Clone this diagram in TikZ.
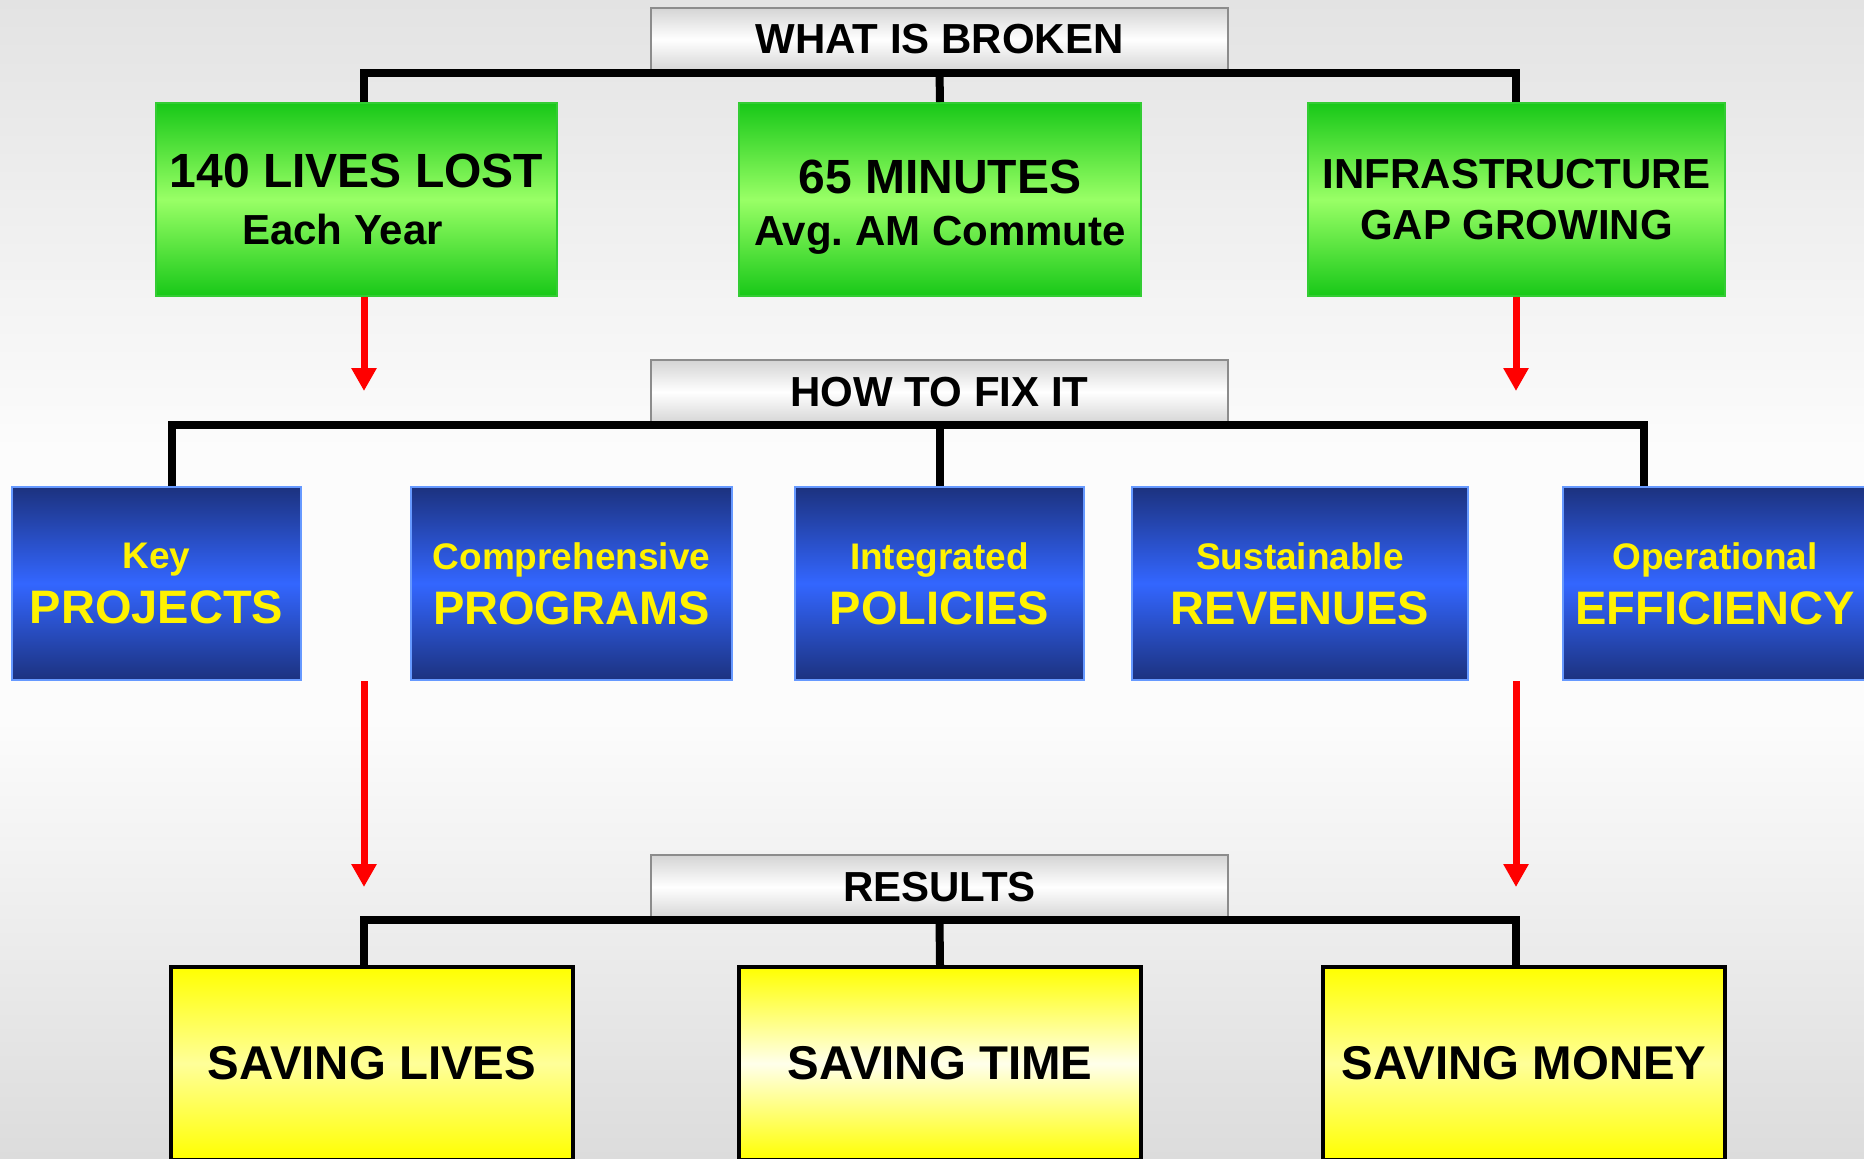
\documentclass[tikz,border=0pt]{standalone}
\usepackage{fontspec}
\setmainfont{Liberation Sans}
\usetikzlibrary{arrows.meta}
\definecolor{bgtop}{HTML}{E3E3E3}
\definecolor{bgmid}{HTML}{FCFCFC}
\definecolor{bgbottom}{HTML}{DCDCDC}
\definecolor{headgray}{HTML}{D4D4D4}
\definecolor{headedge}{HTML}{8C8C8C}
\definecolor{greendark}{HTML}{18C818}
\definecolor{greenlight}{HTML}{99FF66}
\definecolor{greenedge}{HTML}{33CC33}
\definecolor{bluedark}{HTML}{1C327F}
\definecolor{bluelight}{HTML}{3366FF}
\definecolor{blueedge}{HTML}{6699FF}
\definecolor{resultlight}{HTML}{FFFF99}
\begin{document}
\begin{tikzpicture}[x=0.5pt,y=-0.5pt,
    head node/.style={draw=headedge,line width=1pt,top color=headgray,bottom color=headgray,middle color=white,minimum width=288.5pt,minimum height=32pt,inner sep=0pt,font=\bfseries\fontsize{21}{25}\selectfont},
    problem node/.style={draw=greenedge,line width=1pt,top color=greendark,bottom color=greendark,middle color=greenlight,minimum height=96.5pt,inner sep=0pt,align=center,font=\bfseries\fontsize{21}{28.5}\selectfont},
    fix node/.style={draw=blueedge,line width=1pt,top color=bluedark,bottom color=bluedark,middle color=bluelight,minimum height=96.5pt,inner sep=0pt,align=center,text=yellow,font=\bfseries\fontsize{23.5}{27.5}\selectfont},
    result node/.style={draw=black,line width=2pt,top color=yellow,bottom color=yellow,middle color=resultlight,minimum width=201pt,minimum height=96.5pt,inner sep=0pt,font=\bfseries\fontsize{23.7}{28}\selectfont},
    tree line/.style={line width=4pt},
    down arrow/.style={red,line width=3.5pt,-{Triangle[width=12pt,length=11.5pt]}}]
    \useasboundingbox (0,0) rectangle (1864,1158);
    \clip (0,0) rectangle (1864,1158);
    \shade[top color=bgtop,bottom color=bgmid] (0,0) rectangle (1864,450);
    \fill[bgmid] (0,449) rectangle (1864,721);
    \shade[top color=bgmid,bottom color=bgbottom] (0,720) rectangle (1864,1158);

    \coordinate (c1) at (364,0);
    \coordinate (c3) at (1516,0);
    \coordinate (c4) at (172,0);
    \coordinate (c6) at (1644,0);
    \coordinate (a1) at (364,391);
    \coordinate (a2) at (1516,391);
    \coordinate (a3) at (364,887);
    \coordinate (a4) at (1516,887);

    \node[head node] at (939.5,39.5) (broken) {WHAT IS BROKEN};
    \node[head node] at (939.5,392) (fix) {HOW TO FIX IT};
    \node[head node] at (939.5,887) (results) {RESULTS};

    \node[problem node,minimum width=200.5pt] at (356.5,199.5) (g1) {\fontsize{24}{28.5}\selectfont 140 LIVES LOST\\Each Year\hspace*{14pt}};
    \node[problem node,minimum width=201pt,font=\bfseries\fontsize{21}{26}\selectfont] at (940,199.5) (g2) {\fontsize{24}{26}\selectfont\rule{0pt}{24pt}65 MINUTES\\Avg.\ AM Commute};
    \node[problem node,minimum width=208.5pt,font=\bfseries\fontsize{21}{25.5}\selectfont] at (1516.5,199.5) (g3) {INFRASTRUCTURE\\GAP GROWING};

    \node[fix node,minimum width=144.5pt] at (156.5,583.5) (p1) {\fontsize{18.5}{27.5}\selectfont Key\\PROJECTS};
    \node[fix node,minimum width=160.5pt] at (571.5,583.5) (p2) {\fontsize{18.5}{27.5}\selectfont Comprehensive\\PROGRAMS};
    \node[fix node,minimum width=144.5pt] at (939.5,583.5) (p3) {\fontsize{18.5}{27.5}\selectfont Integrated\\POLICIES};
    \node[fix node,minimum width=168pt] at (1300,583.5) (p4) {\fontsize{18.5}{27.5}\selectfont Sustainable\\REVENUES};
    \node[fix node,minimum width=152pt] at (1715,583.5) (p5) {\fontsize{18.5}{27.5}\selectfont Operational\\EFFICIENCY};

    \node[result node] at (372,1063.5) (r1) {SAVING LIVES};
    \node[result node,middle color=yellow!8] at (940,1063.5) (r2) {SAVING TIME};
    \node[result node] at (1524,1063.5) (r3) {SAVING MONEY};

    \draw[tree line] (g1.north -| c1) |- (broken.south) -| (g3.north -| c3);
    \draw[tree line] (broken.south) -- (g2.north);
    \draw[tree line] (p1.north -| c4) |- (fix.south) -| (p5.north -| c6);
    \draw[tree line] (fix.south) -- (p3.north);
    \draw[tree line] (r1.north -| c1) |- (results.south) -| (r3.north -| c3);
    \draw[tree line] (results.south) -- (r2.north);

    \draw[down arrow] (g1.south -| c1) -- (a1);
    \draw[down arrow] (g3.south -| c3) -- (a2);
    \draw[down arrow] (p1.south -| c1) -- (a3);
    \draw[down arrow] (p4.south -| c3) -- (a4);
\end{tikzpicture}
\end{document}
